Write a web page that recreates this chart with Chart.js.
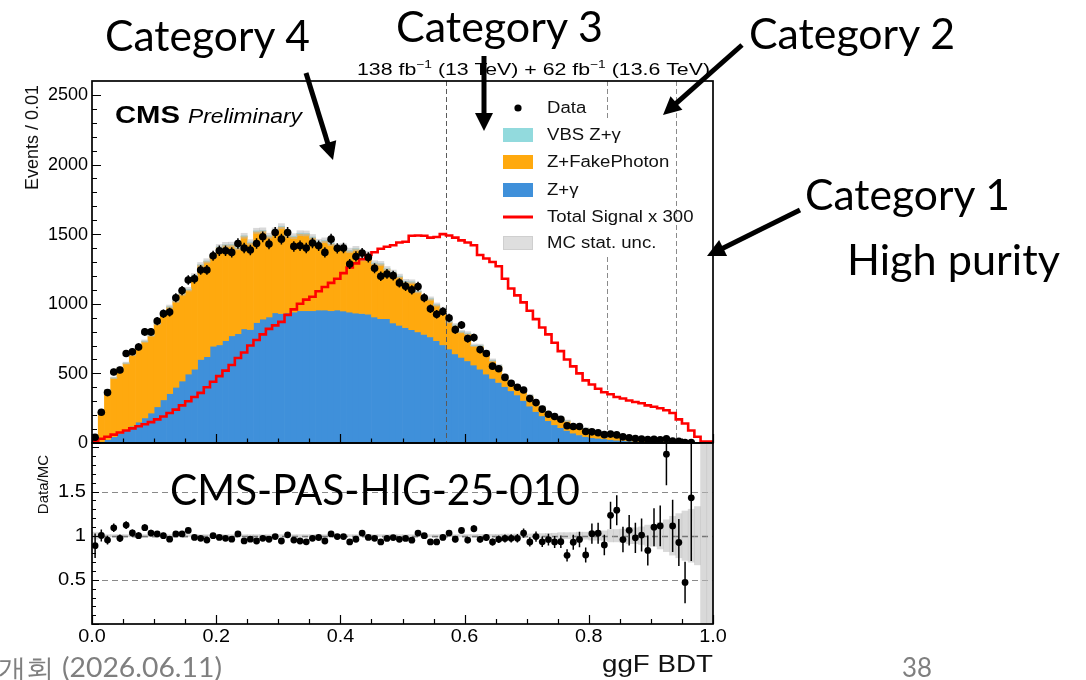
<!DOCTYPE html>
<html lang="ko">
<head>
<meta charset="utf-8">
<title>ggF BDT</title>
<script src="https://cdn.jsdelivr.net/npm/chart.js@4.4.1/dist/chart.umd.min.js"></script>
<style>
  html, body { margin: 0; padding: 0; background: #fff; }
  #page { position: relative; width: 1086px; height: 680px; overflow: hidden; background: #fff; }
  #page canvas { position: absolute; left: 0; top: 0; }
  #notes { position: absolute; left: 0; top: 0; }
  #notes text { font-family: Lato, "Open Sans", sans-serif; }
</style>
</head>
<body>
<div id="page">
  <canvas id="mainPanel" width="1086" height="680"></canvas>
  <canvas id="ratioPanel" width="1086" height="680"></canvas>
  <svg id="notes" width="1086" height="680" xmlns="http://www.w3.org/2000/svg">
    <g fill="#000" font-size="43">
      <text x="105" y="51" textLength="205" lengthAdjust="spacingAndGlyphs">Category 4</text>
      <text x="396" y="42" textLength="207" lengthAdjust="spacingAndGlyphs">Category 3</text>
      <text x="749" y="49" textLength="206" lengthAdjust="spacingAndGlyphs">Category 2</text>
      <text x="805" y="210" textLength="205" lengthAdjust="spacingAndGlyphs">Category 1</text>
      <text x="847" y="275" textLength="213" lengthAdjust="spacingAndGlyphs">High purity</text>
      <text x="170" y="505" textLength="410" lengthAdjust="spacingAndGlyphs">CMS-PAS-HIG-25-010</text>
    </g>
    <g fill="#7f7f7f" font-size="26">
      <text x="-2" y="677" textLength="224" lengthAdjust="spacingAndGlyphs">개회 (2026.06.11)</text>
      <text x="902" y="677" textLength="30" lengthAdjust="spacingAndGlyphs">38</text>
    </g>
    <g id="arrows" fill="#000" stroke="#000"></g>
  </svg>
</div>
<script>
// ggF BDT distribution, 100 bins of width 0.01
const dataCounts = [
  41, 221, 362, 510, 524, 643, 655, 690, 798, 798,
  876, 929, 940, 1043, 1095, 1171, 1179, 1243, 1243, 1345,
  1381, 1381, 1369, 1433, 1400, 1386, 1433, 1481, 1429, 1512,
  1464, 1512, 1412, 1417, 1400, 1436, 1417, 1369, 1464, 1398,
  1400, 1286, 1340, 1364, 1333, 1255, 1198, 1214, 1202, 1150,
  1126, 1100, 1124, 1043, 964, 924, 945, 898, 814, 848,
  750, 757, 671, 643, 552, 533, 471, 429, 400, 381,
  319, 290, 243, 207, 190, 171, 124, 119, 119, 83,
  80, 74, 60, 64, 58, 44, 38, 32, 29, 24,
  26, 23, 30, 14, 12, 4, 4, null, null, null
];
const zgamma = [
  3, 10, 25, 45, 70, 95, 120, 150, 180, 215,
  260, 310, 355, 400, 445, 495, 530, 600, 620, 695,
  705, 735, 770, 785, 820, 815, 865, 890, 905, 935,
  930, 935, 940, 950, 950, 950, 955, 955, 950, 955,
  948, 940, 933, 930, 925, 905, 893, 893, 862, 845,
  829, 814, 798, 780, 762, 735, 705, 675, 640, 615,
  590, 560, 530, 495, 464, 435, 405, 375, 345, 305,
  265, 226, 195, 160, 131, 110, 90, 71, 58, 46,
  38, 34, 30, 25, 20, 18, 15, 12, 10, 9,
  7, 6, 5, 4, 4, 3, 1, 1, 0.5, 0.3
];
const fakePhoton = [
  43, 210, 355, 422, 469, 478, 514, 538, 550, 558,
  597, 617, 622, 620, 626, 607, 670, 678, 685, 647,
  701, 686, 652, 616, 665, 625, 655, 633, 580, 588,
  623, 558, 542, 553, 551, 526, 487, 497, 481, 453,
  462, 439, 459, 390, 431, 385, 392, 356, 362, 350,
  329, 341, 290, 260, 272, 256, 256, 194, 205, 182,
  196, 139, 167, 159, 128, 118, 79, 65, 65, 63,
  76, 65, 64, 55, 72, 72, 68, 56, 65, 59,
  39, 37, 36, 26, 24, 27, 20, 20, 18, 19,
  16, 14, 10, 8, 8.5, 5, 1.4, 0.5, 0.3, 0.2
];
const vbsZg = [
  0.2, 0.5, 1, 1, 1, 1, 1.5, 1.5, 1.5, 2,
  2, 2, 2, 2.5, 2.5, 2.5, 3, 3, 3, 3,
  3, 3, 3.5, 3.5, 3.5, 3.5, 4, 4, 4, 4,
  4, 4, 4, 4, 4, 4, 4, 4, 4, 4,
  4, 4, 4, 4, 4, 4, 3.5, 3.5, 3.5, 3.5,
  3.5, 3.5, 3, 3, 3, 3, 3, 3, 3, 3,
  3, 2.5, 2.5, 2.5, 2.5, 2.5, 2, 2, 2, 2,
  2, 2, 2, 1.5, 1.5, 1.5, 1.5, 1.5, 1.2, 1.2,
  1.2, 1, 1, 1, 1, 1, 0.8, 0.8, 0.8, 0.8,
  0.7, 0.7, 0.6, 0.6, 0.5, 0.5, 0.4, 0.3, 0.2, 0.1
];
const signalX300 = [
  5, 15, 30, 45, 60, 75, 90, 105, 120, 135,
  150, 170, 190, 215, 240, 270, 300, 330, 360, 400,
  440, 480, 520, 560, 610, 650, 700, 740, 780, 820,
  845, 870, 920, 960, 1000, 1030, 1050, 1090, 1120, 1150,
  1180, 1220, 1260, 1290, 1320, 1350, 1370, 1395, 1410, 1420,
  1440, 1445, 1488, 1490, 1488, 1475, 1480, 1500, 1490, 1475,
  1455, 1440, 1420, 1350, 1325, 1300, 1270, 1180, 1110, 1060,
  1010, 950, 890, 830, 780, 720, 660, 600, 550, 500,
  450, 420, 390, 365, 350, 330, 320, 305, 295, 285,
  270, 260, 250, 235, 215, 170, 140, 90, 45, 10
];
// relative MC statistical uncertainty per bin
const mcStatRel = [
  0.04, 0.02, 0.012, 0.012, 0.012, 0.012, 0.012, 0.012, 0.012, 0.012,
  0.012, 0.012, 0.012, 0.012, 0.012, 0.012, 0.012, 0.012, 0.012, 0.012,
  0.012, 0.012, 0.012, 0.012, 0.012, 0.012, 0.012, 0.012, 0.012, 0.012,
  0.012, 0.012, 0.012, 0.012, 0.012, 0.012, 0.012, 0.012, 0.012, 0.012,
  0.012, 0.012, 0.012, 0.012, 0.012, 0.012, 0.012, 0.012, 0.012, 0.012,
  0.012, 0.012, 0.012, 0.012, 0.012, 0.012, 0.012, 0.012, 0.012, 0.012,
  0.014, 0.014, 0.015, 0.015, 0.016, 0.016, 0.018, 0.018, 0.02, 0.02,
  0.02, 0.022, 0.024, 0.026, 0.028, 0.035, 0.035, 0.035, 0.04, 0.04,
  0.05, 0.05, 0.055, 0.07, 0.07, 0.075, 0.09, 0.09, 0.1, 0.12,
  0.12, 0.15, 0.18, 0.22, 0.25, 0.28, 0.3, 0.33, 1.5, 1.5
];
const categoryEdges = [0.57, 0.83, 0.94];
const xTickValues = [0, 0.2, 0.4, 0.6, 0.8, 1.0];
const xTickLabels = ['0.0', '0.2', '0.4', '0.6', '0.8', '1.0'];
const yTickValues = [0, 500, 1000, 1500, 2000, 2500];
const yTickLabels = ['0', '500', '1000', '1500', '2000', '2500'];
const ratioTickValues = [0.5, 1, 1.5];
const ratioTickLabels = ['0.5', '1', '1.5'];

const BIN_W = 0.01;
const Y_MAX = 2600;
const RATIO_MAX = 2.05;
const COLORS = { zg: '#3f90da', fake: '#ffa90e', vbs: '#92dadd', unc: 'rgba(185,185,185,0.55)', signal: '#ff0000' };
const FONT = '"Liberation Sans", Arial, Helvetica, sans-serif';
const LEGEND_BOX = { left: 497, top: 121, right: 670, bottom: 257 };

const binCenters = dataCounts.map((_, i) => (i + 0.5) * BIN_W);
const totalMC = zgamma.map((v, i) => v + fakePhoton[i] + vbsZg[i]);

Chart.defaults.font.family = FONT;
Chart.defaults.color = '#000';

function drawScaled(ctx, text, x, y, font, width, align) {
  ctx.font = font;
  const natural = ctx.measureText(text).width;
  const sx = width ? width / natural : 1;
  ctx.save();
  ctx.translate(x, y);
  ctx.scale(sx, 1);
  ctx.textAlign = align || 'left';
  ctx.fillText(text, 0, 0);
  ctx.restore();
}

function drawStretched(ctx, text, x, y, font, hs, align) {
  ctx.font = font;
  const natural = ctx.measureText(text).width;
  drawScaled(ctx, text, x, y, font, natural * hs, align);
}

// frame and inward ROOT-style ticks
function drawFrame(chart, o) {
  const { ctx, chartArea: a, scales } = chart;
  const xs = scales.x, ys = scales.y;
  ctx.save();
  ctx.strokeStyle = '#000';
  ctx.lineWidth = 1.2;
  ctx.beginPath();
  for (let k = 0; k <= 20; k++) {
    const px = Math.round(xs.getPixelForValue(k * 0.05)) + 0.5;
    const len = k % 4 === 0 ? o.xMajor : o.xMinor;
    ctx.moveTo(px, a.bottom);
    ctx.lineTo(px, a.bottom - len);
  }
  for (let n = 0; n <= o.yCount; n++) {
    const py = Math.round(ys.getPixelForValue(n * o.yMinorStep)) + 0.5;
    if (py < a.top + 1) continue;
    const len = n % o.yPerMajor === 0 ? o.yMajor : o.yMinor;
    ctx.moveTo(a.left, py);
    ctx.lineTo(a.left + len, py);
  }
  ctx.stroke();
  ctx.lineWidth = 1.7;
  ctx.strokeRect(a.left, a.top, a.right - a.left, a.bottom - a.top);
  ctx.restore();
}

function drawYLabels(chart, values, labels, right, hs) {
  const { ctx, scales } = chart;
  ctx.save();
  ctx.fillStyle = '#000';
  ctx.textBaseline = 'middle';
  values.forEach((v, i) => {
    drawStretched(ctx, labels[i], right, scales.y.getPixelForValue(v) + 0.5, '18px ' + FONT, hs, 'right');
  });
  ctx.restore();
}

const mainDecor = {
  id: 'mainDecor',
  afterDatasetDraw(chart, args) {
    if (args.index !== 3) return;
    // category boundaries, drawn over the stacked histogram
    const { ctx, chartArea: a, scales } = chart;
    ctx.save();
    ctx.setLineDash([5, 3]);
    ctx.lineWidth = 1;
    categoryEdges.forEach((e, k) => {
      const px = Math.round(scales.x.getPixelForValue(e)) + 0.5;
      ctx.strokeStyle = k === 0 ? '#5a5a5a' : '#8a8a8a';
      ctx.beginPath();
      if (px > LEGEND_BOX.left && px < LEGEND_BOX.right) {
        ctx.moveTo(px, a.top);
        ctx.lineTo(px, LEGEND_BOX.top);
        ctx.moveTo(px, LEGEND_BOX.bottom);
      } else {
        ctx.moveTo(px, a.top);
      }
      ctx.lineTo(px, a.bottom);
      ctx.stroke();
    });
    ctx.restore();
  },
  afterDatasetsDraw(chart) {
    // Poisson error bars on data
    const { ctx, scales } = chart;
    ctx.save();
    ctx.strokeStyle = '#000';
    ctx.lineWidth = 1.5;
    ctx.beginPath();
    dataCounts.forEach((v, i) => {
      if (v == null) return;
      const e = Math.sqrt(v);
      const px = scales.x.getPixelForValue(binCenters[i]);
      ctx.moveTo(px, scales.y.getPixelForValue(Math.max(0, v - e)));
      ctx.lineTo(px, scales.y.getPixelForValue(Math.min(Y_MAX, v + e)));
    });
    ctx.stroke();
    ctx.restore();
  },
  afterDraw(chart) {
    const { ctx } = chart;
    drawFrame(chart, { xMajor: 9, xMinor: 4.5, yCount: 26, yMinorStep: 100, yPerMajor: 5, yMajor: 9, yMinor: 5 });
    drawYLabels(chart, yTickValues, yTickLabels, 88, 1.0);

    ctx.save();
    ctx.fillStyle = '#000';
    ctx.textBaseline = 'alphabetic';
    drawScaled(ctx, 'CMS', 115, 123, 'bold 24px ' + FONT, 65);
    drawScaled(ctx, 'Preliminary', 188, 123, 'italic 20px ' + FONT, 114);

    // luminosity label with superscripts
    const parts = [['138 fb', 0], ['\u22121', 1], [' (13 TeV) + 62 fb', 0], ['\u22121', 1], [' (13.6 TeV)', 0]];
    const mainF = '17px ' + FONT, supF = '11px ' + FONT;
    let w = 0;
    parts.forEach(([t, s]) => { ctx.font = s ? supF : mainF; w += ctx.measureText(t).width; });
    const target = 353;
    ctx.save();
    ctx.translate(710 - target, 75);
    ctx.scale(target / w, 1);
    let x = 0;
    parts.forEach(([t, s]) => {
      ctx.font = s ? supF : mainF;
      ctx.fillText(t, x, s ? -7 : 0);
      x += ctx.measureText(t).width;
    });
    ctx.restore();

    // legend
    const lx = 503, tx = 547, legF = '16px ' + FONT;
    const rows = [
      { y: 108, label: 'Data', kind: 'dot' },
      { y: 135, label: 'VBS Z+\u03b3', kind: 'box', color: COLORS.vbs },
      { y: 162, label: 'Z+FakePhoton', kind: 'box', color: COLORS.fake },
      { y: 190, label: 'Z+\u03b3', kind: 'box', color: COLORS.zg },
      { y: 217, label: 'Total Signal x 300', kind: 'line', color: COLORS.signal },
      { y: 243, label: 'MC stat. unc.', kind: 'unc' }
    ];
    rows.forEach(r => {
      if (r.kind === 'dot') {
        ctx.fillStyle = '#000';
        ctx.beginPath();
        ctx.arc(lx + 15, r.y, 3.6, 0, Math.PI * 2);
        ctx.fill();
      } else if (r.kind === 'box') {
        ctx.fillStyle = r.color;
        ctx.fillRect(lx, r.y - 7, 30, 14);
      } else if (r.kind === 'line') {
        ctx.strokeStyle = r.color;
        ctx.lineWidth = 3;
        ctx.beginPath();
        ctx.moveTo(lx, r.y);
        ctx.lineTo(lx + 30, r.y);
        ctx.stroke();
      } else {
        ctx.fillStyle = '#dedede';
        ctx.fillRect(lx, r.y - 7, 30, 14);
        ctx.strokeStyle = '#cfcfcf';
        ctx.lineWidth = 1;
        ctx.strokeRect(lx + 0.5, r.y - 6.5, 29, 13);
      }
      ctx.fillStyle = '#111';
      ctx.textBaseline = 'middle';
      drawStretched(ctx, r.label, tx, r.y + 1, legF, 1.16);
    });

    // y-axis title
    ctx.save();
    ctx.translate(33, 85);
    ctx.rotate(-Math.PI / 2);
    ctx.textAlign = 'right';
    ctx.textBaseline = 'middle';
    ctx.font = '18px ' + FONT;
    ctx.fillStyle = '#111';
    ctx.fillText('Events / 0.01', 0, 0);
    ctx.restore();
    ctx.restore();
  }
};

const ratioDecor = {
  id: 'ratioDecor',
  beforeDatasetsDraw(chart) {
    const { ctx, chartArea: a, scales } = chart;
    ctx.save();
    ctx.setLineDash([6, 4]);
    [[0.5, '#8a8a8a', 1], [1.5, '#8a8a8a', 1], [1, '#222', 1.5]].forEach(([v, c, lw]) => {
      const py = Math.round(scales.y.getPixelForValue(v)) + 0.5;
      ctx.strokeStyle = c;
      ctx.lineWidth = lw;
      ctx.beginPath();
      ctx.moveTo(a.left, py);
      ctx.lineTo(a.right, py);
      ctx.stroke();
    });
    ctx.restore();
  },
  afterDatasetsDraw(chart) {
    const { ctx, scales } = chart;
    ctx.save();
    ctx.strokeStyle = '#000';
    ctx.lineWidth = 1.5;
    ctx.beginPath();
    dataCounts.forEach((v, i) => {
      if (v == null) return;
      const r = v / totalMC[i], e = Math.sqrt(v) / totalMC[i];
      const px = scales.x.getPixelForValue(binCenters[i]);
      ctx.moveTo(px, scales.y.getPixelForValue(Math.max(0, r - e)));
      ctx.lineTo(px, scales.y.getPixelForValue(Math.min(RATIO_MAX, r + e)));
    });
    ctx.stroke();
    ctx.restore();
  },
  afterDraw(chart) {
    const { ctx, scales } = chart;
    drawFrame(chart, { xMajor: 9, xMinor: 5, yCount: 20, yMinorStep: 0.1, yPerMajor: 5, yMajor: 7, yMinor: 4 });
    drawYLabels(chart, ratioTickValues, ratioTickLabels, 86, 1.12);

    ctx.save();
    ctx.fillStyle = '#000';
    ctx.textBaseline = 'middle';
    xTickValues.forEach((v, i) => {
      drawStretched(ctx, xTickLabels[i], scales.x.getPixelForValue(v), 637, '18px ' + FONT, 1.1, 'center');
    });
    ctx.restore();

    ctx.save();
    ctx.fillStyle = '#111';
    ctx.translate(44, 455);
    ctx.rotate(-Math.PI / 2);
    ctx.textAlign = 'right';
    ctx.textBaseline = 'middle';
    ctx.font = '15px ' + FONT;
    ctx.fillText('Data/MC', 0, 0);
    ctx.restore();
    ctx.save();
    ctx.fillStyle = '#111';
    ctx.textBaseline = 'alphabetic';
    drawScaled(ctx, 'ggF BDT', 713, 672, '24px ' + FONT, 111, 'right');
    ctx.restore();
  }
};

const barDefaults = { barPercentage: 1, categoryPercentage: 1, grouped: false, borderWidth: 0 };

new Chart(document.getElementById('mainPanel'), {
  type: 'bar',
  data: {
    datasets: [
      Object.assign({ label: 'Z+\u03b3', order: 10, backgroundColor: COLORS.zg,
        data: binCenters.map((x, i) => ({ x, y: [0, zgamma[i]] })) }, barDefaults),
      Object.assign({ label: 'Z+FakePhoton', order: 9, backgroundColor: COLORS.fake,
        data: binCenters.map((x, i) => ({ x, y: [zgamma[i], zgamma[i] + fakePhoton[i]] })) }, barDefaults),
      Object.assign({ label: 'VBS Z+\u03b3', order: 8, backgroundColor: COLORS.vbs,
        data: binCenters.map((x, i) => ({ x, y: [zgamma[i] + fakePhoton[i], totalMC[i]] })) }, barDefaults),
      Object.assign({ label: 'MC stat. unc.', order: 7, backgroundColor: COLORS.unc,
        data: binCenters.map((x, i) => ({ x, y: [totalMC[i] * (1 - Math.min(1, mcStatRel[i])), totalMC[i] * (1 + mcStatRel[i])] })) }, barDefaults),
      { type: 'line', label: 'Total Signal x 300', order: 2, borderColor: COLORS.signal, borderWidth: 2.6,
        pointRadius: 0, fill: false, stepped: 'after',
        data: signalX300.map((v, i) => ({ x: i * BIN_W, y: v })).concat([{ x: 1, y: signalX300[signalX300.length - 1] }]) },
      { type: 'scatter', label: 'Data', order: 1, pointRadius: 3.8, pointBackgroundColor: '#000', pointBorderWidth: 0,
        data: dataCounts.map((v, i) => v == null ? null : { x: binCenters[i], y: v }).filter(Boolean) }
    ]
  },
  options: {
    responsive: false, animation: false, devicePixelRatio: 1,
    layout: { padding: { left: 0, right: 373, top: 81, bottom: 0 } },
    plugins: { legend: { display: false }, tooltip: { enabled: false } },
    scales: {
      x: { type: 'linear', min: 0, max: 1, offset: false, grid: { display: false }, border: { display: false },
        ticks: { display: false }, afterFit(s) { s.height = 680 - 443; } },
      y: { type: 'linear', min: 0, max: Y_MAX, grid: { display: false }, border: { display: false },
        afterBuildTicks(s) { s.ticks = yTickValues.map(v => ({ value: v })); },
        ticks: { display: false },
        afterFit(s) { s.width = 92; } }
    }
  },
  plugins: [mainDecor]
});

new Chart(document.getElementById('ratioPanel'), {
  type: 'bar',
  data: {
    datasets: [
      Object.assign({ label: 'MC stat. unc.', order: 5, backgroundColor: COLORS.unc,
        data: binCenters.map((x, i) => ({ x, y: [Math.max(0, 1 - mcStatRel[i]), Math.min(RATIO_MAX, 1 + mcStatRel[i])] })) }, barDefaults),
      { type: 'scatter', label: 'Data/MC', order: 1, pointRadius: 3.4, pointBackgroundColor: '#000', pointBorderWidth: 0,
        data: dataCounts.map((v, i) => v == null ? null : { x: binCenters[i], y: v / totalMC[i] }).filter(Boolean) }
    ]
  },
  options: {
    responsive: false, animation: false, devicePixelRatio: 1,
    layout: { padding: { left: 0, right: 373, top: 443, bottom: 0 } },
    plugins: { legend: { display: false }, tooltip: { enabled: false } },
    scales: {
      x: { type: 'linear', min: 0, max: 1, offset: false, grid: { display: false }, border: { display: false },
        afterBuildTicks(s) { s.ticks = xTickValues.map(v => ({ value: v })); },
        ticks: { display: false },
        afterFit(s) { s.height = 680 - 624; } },
      y: { type: 'linear', min: 0, max: RATIO_MAX, grid: { display: false }, border: { display: false },
        afterBuildTicks(s) { s.ticks = ratioTickValues.map(v => ({ value: v })); },
        ticks: { display: false },
        afterFit(s) { s.width = 92; } }
    }
  },
  plugins: [ratioDecor]
});

// annotation arrows
(function () {
  const g = document.getElementById('arrows');
  const NS = 'http://www.w3.org/2000/svg';
  const arrows = [
    [306, 73, 333, 160],
    [484, 56, 484, 131],
    [742, 45, 663, 115],
    [800, 210, 707, 256]
  ];
  arrows.forEach(([x1, y1, x2, y2]) => {
    const dx = x2 - x1, dy = y2 - y1, L = Math.hypot(dx, dy);
    const ux = dx / L, uy = dy / L, hl = 18, hw = 9;
    const bx = x2 - ux * hl, by = y2 - uy * hl;
    const line = document.createElementNS(NS, 'line');
    line.setAttribute('x1', x1); line.setAttribute('y1', y1);
    line.setAttribute('x2', bx + ux * 2); line.setAttribute('y2', by + uy * 2);
    line.setAttribute('stroke-width', 5);
    g.appendChild(line);
    const head = document.createElementNS(NS, 'polygon');
    head.setAttribute('points', [
      [x2, y2], [bx - uy * hw, by + ux * hw], [bx + uy * hw, by - ux * hw]
    ].map(p => p.join(',')).join(' '));
    head.setAttribute('stroke', 'none');
    g.appendChild(head);
  });
})();
</script>
</body>
</html>
